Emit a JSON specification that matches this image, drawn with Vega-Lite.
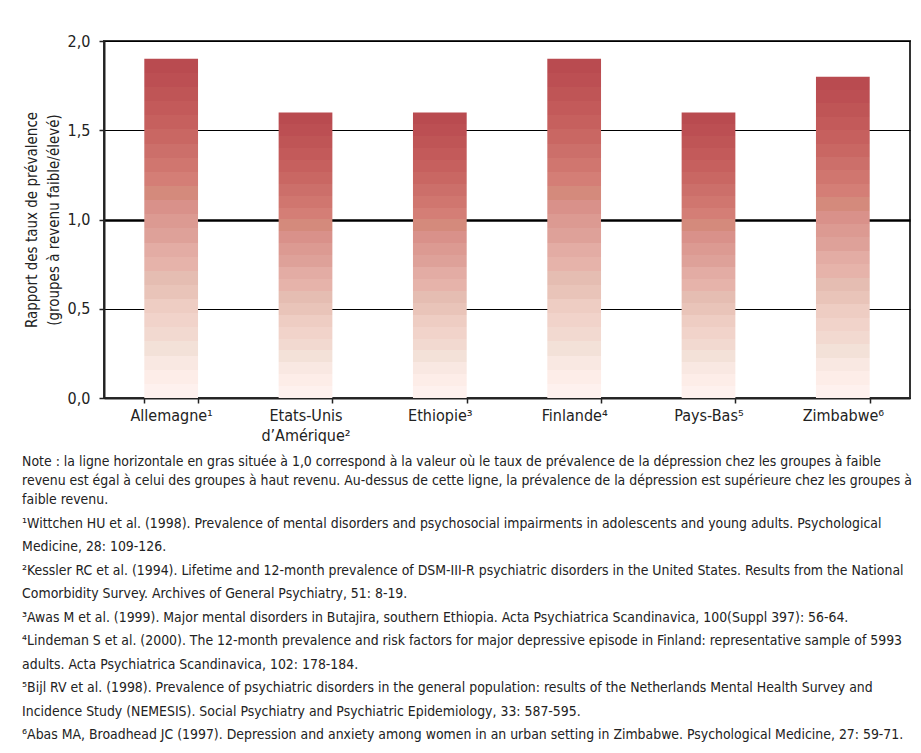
{
  "$schema": "https://vega.github.io/schema/vega-lite/v6.json",
  "width": 806,
  "height": 357,
  "autosize": "none",
  "padding": {"left": 104, "top": 41, "right": 11, "bottom": 355},
  "background": "white",
  "data": {
    "values": [
      {"pays": "Allemagne¹", "rapport": 1.9},
      {"pays": "Etats-Unis\nd’Amérique²", "rapport": 1.6},
      {"pays": "Ethiopie³", "rapport": 1.6},
      {"pays": "Finlande⁴", "rapport": 1.9},
      {"pays": "Pays-Bas⁵", "rapport": 1.6},
      {"pays": "Zimbabwe⁶", "rapport": 1.8}
    ]
  },
  "title": {
    "text": [
      "Note : la ligne horizontale en gras située à 1,0 correspond à la valeur où le taux de prévalence de la dépression chez les groupes à faible",
      "revenu est égal à celui des groupes à haut revenu. Au-dessus de cette ligne, la prévalence de la dépression est supérieure chez les groupes à",
      "faible revenu."
    ],
    "subtitle": [
      "¹Wittchen HU et al. (1998). Prevalence of mental disorders and psychosocial impairments in adolescents and young adults. Psychological",
      "\u00a0\u00a0Medicine, 28: 109-126.",
      "²Kessler RC et al. (1994). Lifetime and 12-month prevalence of DSM-III-R psychiatric disorders in the United States. Results from the National",
      "\u00a0\u00a0Comorbidity Survey. Archives of General Psychiatry, 51: 8-19.",
      "³Awas M et al. (1999). Major mental disorders in Butajira, southern Ethiopia. Acta Psychiatrica Scandinavica, 100(Suppl 397): 56-64.",
      "⁴Lindeman S et al. (2000). The 12-month prevalence and risk factors for major depressive episode in Finland: representative sample of 5993",
      "\u00a0\u00a0adults. Acta Psychiatrica Scandinavica, 102: 178-184.",
      "⁵Bijl RV et al. (1998). Prevalence of psychiatric disorders in the general population: results of the Netherlands Mental Health Survey and",
      "\u00a0\u00a0Incidence Study (NEMESIS). Social Psychiatry and Psychiatric Epidemiology, 33: 587-595.",
      "⁶Abas MA, Broadhead JC (1997). Depression and anxiety among women in an urban setting in Zimbabwe. Psychological Medicine, 27: 59-71."
    ],
    "orient": "bottom",
    "anchor": "start",
    "frame": "bounds",
    "offset": 12,
    "dx": -2,
    "font": "Liberation Sans Narrow, DejaVu Sans Condensed, sans-serif",
    "fontSize": 13.9,
    "fontWeight": "normal",
    "lineHeight": 19,
    "color": "#222222",
    "subtitleFont": "Liberation Sans Narrow, DejaVu Sans Condensed, sans-serif",
    "subtitleFontSize": 13.9,
    "subtitleLineHeight": 23.5,
    "subtitleColor": "#222222",
    "subtitlePadding": 10
  },
  "mark": {
    "type": "bar",
    "color": {
      "gradient": "linear",
      "x1": 0, "y1": 0, "x2": 0, "y2": 1,
      "stops": [
        {"offset": 0.0000, "color": "#b94b50"}, {"offset": 0.0417, "color": "#b94b50"},
        {"offset": 0.0417, "color": "#bc4f53"}, {"offset": 0.0833, "color": "#bc4f53"},
        {"offset": 0.0833, "color": "#bf5556"}, {"offset": 0.1250, "color": "#bf5556"},
        {"offset": 0.1250, "color": "#c35a5a"}, {"offset": 0.1667, "color": "#c35a5a"},
        {"offset": 0.1667, "color": "#c6605e"}, {"offset": 0.2083, "color": "#c6605e"},
        {"offset": 0.2083, "color": "#c96763"}, {"offset": 0.2500, "color": "#c96763"},
        {"offset": 0.2500, "color": "#cc6f6a"}, {"offset": 0.2917, "color": "#cc6f6a"},
        {"offset": 0.2917, "color": "#d0766f"}, {"offset": 0.3333, "color": "#d0766f"},
        {"offset": 0.3333, "color": "#d47e76"}, {"offset": 0.3750, "color": "#d47e76"},
        {"offset": 0.3750, "color": "#d48a7c"}, {"offset": 0.4167, "color": "#d48a7c"},
        {"offset": 0.4167, "color": "#d9918a"}, {"offset": 0.4583, "color": "#d9918a"},
        {"offset": 0.4583, "color": "#dc9a92"}, {"offset": 0.5000, "color": "#dc9a92"},
        {"offset": 0.5000, "color": "#dea199"}, {"offset": 0.5417, "color": "#dea199"},
        {"offset": 0.5417, "color": "#e3aca4"}, {"offset": 0.5833, "color": "#e3aca4"},
        {"offset": 0.5833, "color": "#e6b3aa"}, {"offset": 0.6250, "color": "#e6b3aa"},
        {"offset": 0.6250, "color": "#e5bdb2"}, {"offset": 0.6667, "color": "#e5bdb2"},
        {"offset": 0.6667, "color": "#e9c4b9"}, {"offset": 0.7083, "color": "#e9c4b9"},
        {"offset": 0.7083, "color": "#eecdc3"}, {"offset": 0.7500, "color": "#eecdc3"},
        {"offset": 0.7500, "color": "#f1d3ca"}, {"offset": 0.7917, "color": "#f1d3ca"},
        {"offset": 0.7917, "color": "#f2d9d0"}, {"offset": 0.8333, "color": "#f2d9d0"},
        {"offset": 0.8333, "color": "#f3e1d8"}, {"offset": 0.8750, "color": "#f3e1d8"},
        {"offset": 0.8750, "color": "#f9e8e2"}, {"offset": 0.9167, "color": "#f9e8e2"},
        {"offset": 0.9167, "color": "#fdede8"}, {"offset": 0.9583, "color": "#fdede8"},
        {"offset": 0.9583, "color": "#fef1ee"}, {"offset": 1.0000, "color": "#fef1ee"}
      ]
    }
  },
  "encoding": {
    "x": {
      "field": "pays",
      "type": "nominal",
      "sort": null,
      "scale": {"paddingInner": 0.6, "paddingOuter": 0.3},
      "axis": {
        "title": null,
        "labelAngle": 0,
        "labelExpr": "split(datum.label, '\\n')",
        "labelFont": "Liberation Sans Narrow, DejaVu Sans Condensed, sans-serif",
        "labelFontSize": 16,
        "labelColor": "#222222",
        "labelPadding": 4,
        "labelLineHeight": 20,
        "tickBand": "extent",
        "tickSize": 5,
        "tickColor": "#222222",
        "tickWidth": 1.5,
        "domainColor": "#222222",
        "domainWidth": 2
      }
    },
    "y": {
      "field": "rapport",
      "type": "quantitative",
      "scale": {"domain": [0, 2], "nice": false},
      "axis": {
        "title": ["Rapport des taux de prévalence", "(groupes à revenu faible/élevé)"],
        "titleFont": "Liberation Sans Narrow, DejaVu Sans Condensed, sans-serif",
        "titleFontSize": 15,
        "titleFontWeight": "normal",
        "titleColor": "#222222",
        "titleLineHeight": 22,
        "titlePadding": 6,
        "values": [0, 0.5, 1, 1.5, 2],
        "labelExpr": "replace(format(datum.value, '.1f'), '.', ',')",
        "labelFont": "Liberation Sans Narrow, DejaVu Sans Condensed, sans-serif",
        "labelFontSize": 16,
        "labelColor": "#222222",
        "labelPadding": 9,
        "tickSize": 5,
        "tickColor": "#222222",
        "tickWidth": 1.5,
        "domainColor": "#222222",
        "domainWidth": 2,
        "grid": true,
        "gridColor": "#000000",
        "gridWidth": {"expr": "datum.value === 1 ? 2.5 : 1.2"},
        "gridOpacity": 1
      }
    }
  },
  "config": {
    "view": {"stroke": "#333333", "strokeWidth": 2}
  }
}
